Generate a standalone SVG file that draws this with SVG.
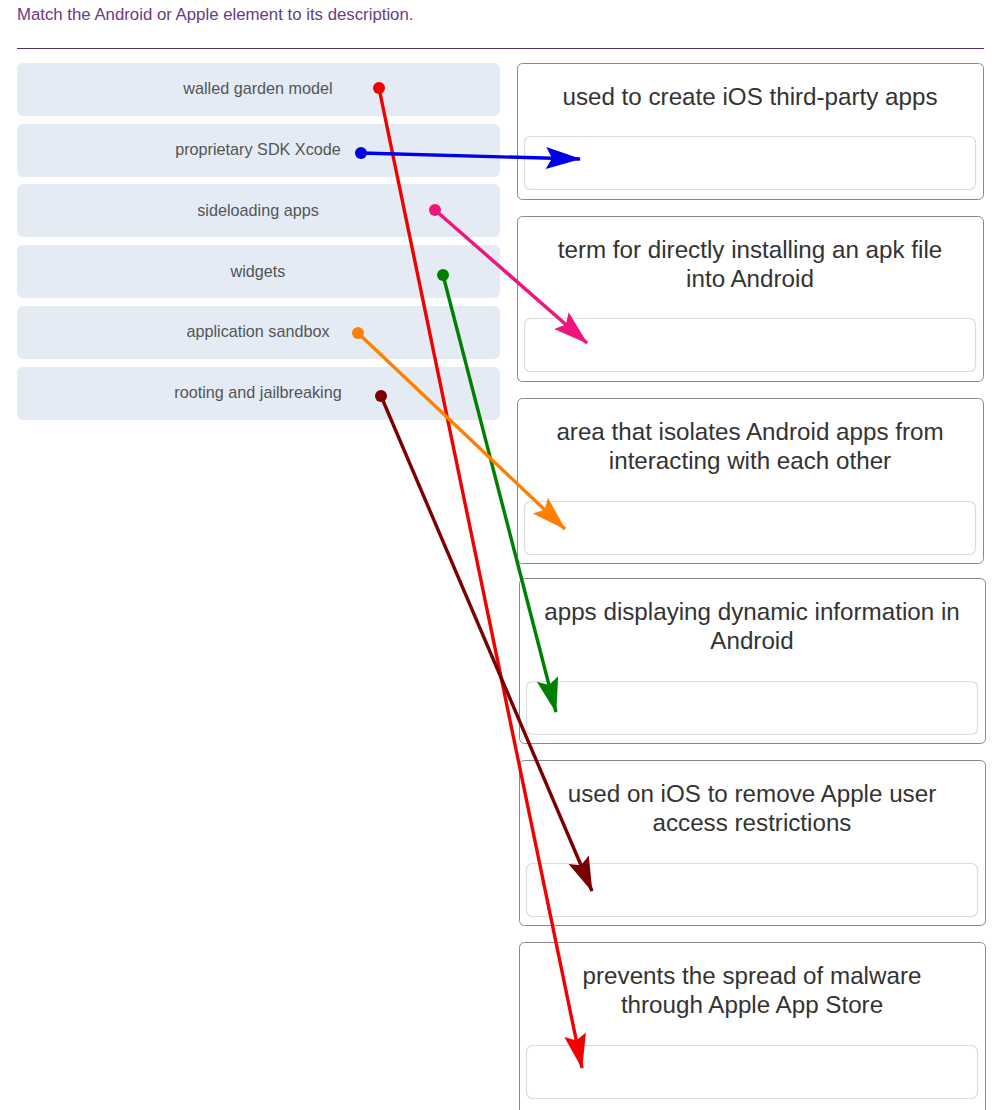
<svg xmlns="http://www.w3.org/2000/svg" width="1007" height="1110" viewBox="0 0 1007 1110">
<style>
text{font-family:"Liberation Sans",Arial,sans-serif}
.title{font-size:16.8px;fill:#6b3a86}
.item rect{fill:#e4ebf5}
.item text{font-size:16.2px;fill:#555;text-anchor:middle}
.box .outer{fill:#fff;stroke:#8a8a8a;stroke-width:1}
.box .inner{fill:#fff;stroke:#dcdcdc;stroke-width:1.2}
.box text{font-size:24.2px;fill:#333;text-anchor:middle}
.conn line{stroke-width:3.4;fill:none}
</style>
<defs>
<marker id="aRed" markerUnits="userSpaceOnUse" markerWidth="38" markerHeight="26" viewBox="-36 -13 38 26" refX="0" refY="0" orient="auto"><path d="M1,0 L-34,-11 L-28,0 L-34,11 Z" fill="#f20000"/></marker>
<marker id="aBlue" markerUnits="userSpaceOnUse" markerWidth="38" markerHeight="26" viewBox="-36 -13 38 26" refX="0" refY="0" orient="auto"><path d="M1,0 L-34,-11 L-28,0 L-34,11 Z" fill="#0000e6"/></marker>
<marker id="aPink" markerUnits="userSpaceOnUse" markerWidth="38" markerHeight="26" viewBox="-36 -13 38 26" refX="0" refY="0" orient="auto"><path d="M1,0 L-34,-11 L-28,0 L-34,11 Z" fill="#f0147c"/></marker>
<marker id="aGreen" markerUnits="userSpaceOnUse" markerWidth="38" markerHeight="26" viewBox="-36 -13 38 26" refX="0" refY="0" orient="auto"><path d="M1,0 L-34,-11 L-28,0 L-34,11 Z" fill="#008000"/></marker>
<marker id="aOrange" markerUnits="userSpaceOnUse" markerWidth="38" markerHeight="26" viewBox="-36 -13 38 26" refX="0" refY="0" orient="auto"><path d="M1,0 L-34,-11 L-28,0 L-34,11 Z" fill="#ff8000"/></marker>
<marker id="aMaroon" markerUnits="userSpaceOnUse" markerWidth="38" markerHeight="26" viewBox="-36 -13 38 26" refX="0" refY="0" orient="auto"><path d="M1,0 L-34,-11 L-28,0 L-34,11 Z" fill="#7a0000"/></marker>
</defs>
<rect width="1007" height="1110" fill="#fff"/>
<text class="title" x="17" y="20">Match the Android or Apple element to its description.</text>
<line x1="17" y1="48.5" x2="984" y2="48.5" stroke="#5a2d6a" stroke-width="1"/>

<g id="item1" class="item"><rect x="17" y="63" width="483" height="53" rx="6"/><text x="258" y="94">walled garden model</text></g>
<g id="item2" class="item"><rect x="17" y="124" width="483" height="53" rx="6"/><text x="258" y="155">proprietary SDK Xcode</text></g>
<g id="item3" class="item"><rect x="17" y="184" width="483" height="53" rx="6"/><text x="258" y="216">sideloading apps</text></g>
<g id="item4" class="item"><rect x="17" y="245" width="483" height="53" rx="6"/><text x="258" y="277">widgets</text></g>
<g id="item5" class="item"><rect x="17" y="306" width="483" height="53" rx="6"/><text x="258" y="337">application sandbox</text></g>
<g id="item6" class="item"><rect x="17" y="367" width="483" height="53" rx="6"/><text x="258" y="398">rooting and jailbreaking</text></g>

<g id="box1" class="box"><rect class="outer" x="517.5" y="63.5" width="466" height="136" rx="5"/><text x="750" y="105">used to create iOS third-party apps</text><rect class="inner" x="524.5" y="136.5" width="451" height="53" rx="6"/></g>
<g id="box2" class="box"><rect class="outer" x="517.5" y="216.5" width="466" height="165" rx="5"/><text x="750" y="258">term for directly installing an apk file</text><text x="750" y="287">into Android</text><rect class="inner" x="524.5" y="318.5" width="451" height="53" rx="6"/></g>
<g id="box3" class="box"><rect class="outer" x="517.5" y="398.5" width="466" height="165" rx="5"/><text x="750" y="440">area that isolates Android apps from</text><text x="750" y="469">interacting with each other</text><rect class="inner" x="524.5" y="501.5" width="451" height="53" rx="6"/></g>
<g id="box4" class="box"><rect class="outer" x="519.5" y="578.5" width="466" height="165" rx="5"/><text x="752" y="620">apps displaying dynamic information in</text><text x="752" y="649">Android</text><rect class="inner" x="526.5" y="681.5" width="451" height="53" rx="6"/></g>
<g id="box5" class="box"><rect class="outer" x="519.5" y="760.5" width="466" height="165" rx="5"/><text x="752" y="802">used on iOS to remove Apple user</text><text x="752" y="831">access restrictions</text><rect class="inner" x="526.5" y="863.5" width="451" height="53" rx="6"/></g>
<g id="box6" class="box"><rect class="outer" x="519.5" y="942.5" width="466" height="180" rx="5"/><text x="752" y="984">prevents the spread of malware</text><text x="752" y="1013">through Apple App Store</text><rect class="inner" x="526.5" y="1045.5" width="451" height="53" rx="6"/></g>

<g id="connectors" class="conn">
<line x1="379" y1="88" x2="582" y2="1068" stroke="#f20000" marker-end="url(#aRed)"/>
<circle cx="379" cy="88" r="6" fill="#f20000"/>
<line x1="361" y1="153" x2="580" y2="159" stroke="#0000e6" marker-end="url(#aBlue)"/>
<circle cx="361" cy="153" r="6" fill="#0000e6"/>
<line x1="435" y1="210" x2="587" y2="343" stroke="#f0147c" marker-end="url(#aPink)"/>
<circle cx="435" cy="210" r="6" fill="#f0147c"/>
<line x1="443" y1="275" x2="556" y2="712" stroke="#008000" marker-end="url(#aGreen)"/>
<circle cx="443" cy="275" r="6" fill="#008000"/>
<line x1="358" y1="333" x2="565" y2="529" stroke="#ff8000" marker-end="url(#aOrange)"/>
<circle cx="358" cy="333" r="6" fill="#ff8000"/>
<line x1="381" y1="396" x2="592" y2="891" stroke="#7a0000" marker-end="url(#aMaroon)"/>
<circle cx="381" cy="396" r="6" fill="#7a0000"/>
</g>
</svg>
